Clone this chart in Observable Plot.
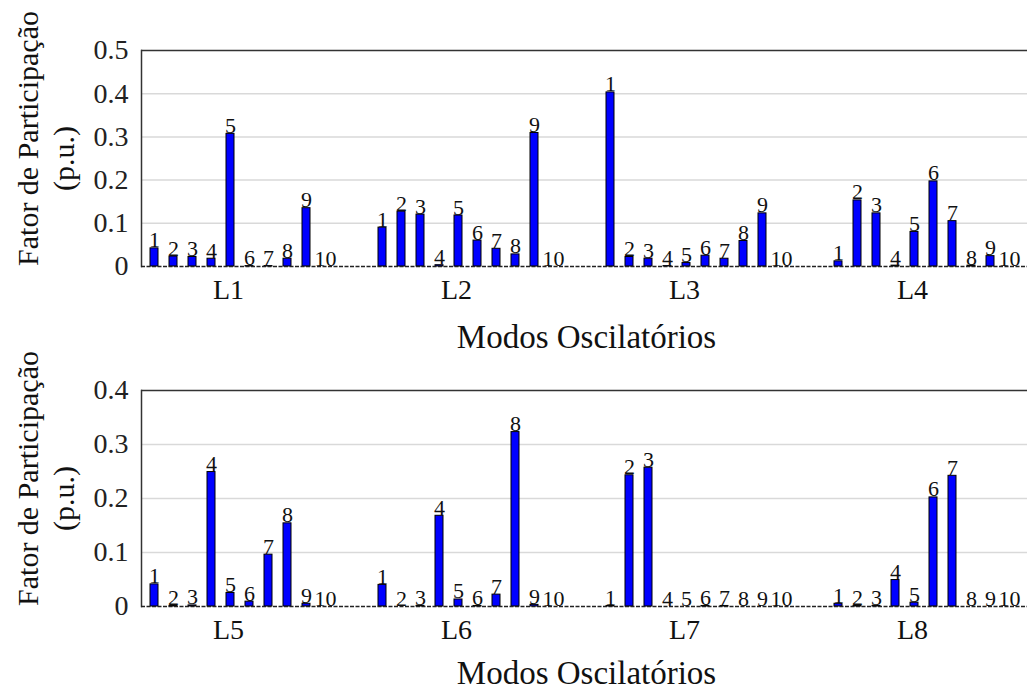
<!DOCTYPE html>
<html>
<head>
<meta charset="utf-8">
<script src="https://cdn.jsdelivr.net/npm/d3@7"></script>
<script src="https://cdn.jsdelivr.net/npm/@observablehq/plot@0.6"></script>
<style>
  body { margin: 0; background: #fff; }
  #chart svg { display: block; overflow: visible; }
  #chart svg, #chart svg text {
    font-family: "Liberation Serif", "DejaVu Serif", "Times New Roman", Times, serif !important;
  }
</style>
</head>
<body>
<div id="chart"></div>
<script>
// Oscillation modes shown in every group
const modes = [1, 2, 3, 4, 5, 6, 7, 8, 9, 10];

// Group labels for each panel
const groupsTop = ["L1", "L2", "L3", "L4"];
const groupsBottom = ["L5", "L6", "L7", "L8"];

// Participation factors (p.u.) per mode, one list per group
const L1 = [0.042, 0.023, 0.022, 0.018, 0.307, 0.001, 0.001, 0.018, 0.135, 0];
const L2 = [0.090, 0.127, 0.120, 0.003, 0.118, 0.060, 0.041, 0.028, 0.309, 0];
const L3 = [0.403, 0.022, 0.018, 0.001, 0.008, 0.025, 0.018, 0.059, 0.123, 0];
const L4 = [0.012, 0.153, 0.123, 0.002, 0.080, 0.197, 0.105, 0.002, 0.024, 0];
const L5 = [0.041, 0.001, 0.002, 0.249, 0.025, 0.009, 0.096, 0.154, 0.005, 0];
const L6 = [0.040, 0, 0.001, 0.168, 0.013, 0.001, 0.022, 0.323, 0.003, 0];
const L7 = [0.001, 0.243, 0.257, 0, 0, 0.001, 0.001, 0, 0, 0];
const L8 = [0.005, 0.001, 0.001, 0.049, 0.007, 0.202, 0.242, 0, 0, 0];

// Y-axis tick values per panel
const ticksTop = [0, 0.1, 0.2, 0.3, 0.4, 0.5];
const ticksBottom = [0, 0.1, 0.2, 0.3, 0.4];

const SLOTS = 12; // 10 modes + 2 empty slots between groups
const SERIF = "Liberation Serif, DejaVu Serif, serif";

function panel({groups, values, ticks, height, marginTop, marginBottom, titleOffset}) {
  const yMax = d3.max(ticks);
  const rows = groups.flatMap((g, gi) =>
    modes.map((m, mi) => ({group: g, mode: m, slot: gi * SLOTS + mi, value: values[gi][mi]}))
  );
  const groupLabels = groups.map((g, gi) => ({group: g, slot: gi * SLOTS + 4}));
  return Plot.plot({
    width: 1027,
    height,
    marginLeft: 141,
    marginRight: 0,
    marginTop,
    marginBottom,
    style: {background: "white", color: "#222", fontFamily: SERIF},
    x: {type: "band", domain: d3.range(SLOTS * 4), range: [141, 1061], paddingInner: 0.57, paddingOuter: 0.285, axis: null},
    y: {domain: [0, yMax], axis: null},
    marks: [
      Plot.gridY(ticks.filter(t => t > 0 && t < yMax), {stroke: "#d9d9d9", strokeOpacity: 1, strokeWidth: 1.5}),
      Plot.ruleY([yMax], {stroke: "#333", strokeWidth: 1.5}),
      Plot.frame({anchor: "left", stroke: "#333", strokeWidth: 1.5}),
      Plot.barY(rows, {x: "slot", y: "value", fill: "#0000ff", stroke: "#000", strokeWidth: 1}),
      Plot.ruleY([0], {stroke: "#222", strokeWidth: 1.5, strokeDasharray: "4,1.5"}),
      Plot.text(rows, {x: "slot", y: "value", text: d => String(d.mode), lineAnchor: "bottom", dy: -1, fontSize: 22, fontFamily: SERIF, fill: "#111"}),
      Plot.axisY(ticks, {tickSize: 0, tickPadding: 13, fontSize: 28, fontFamily: SERIF, tickFormat: d => String(d), label: null}),
      Plot.text(groupLabels, {x: "slot", text: "group", frameAnchor: "bottom", dy: 24, dx: -2, fontSize: 28, fontFamily: SERIF, lineAnchor: "middle", fill: "#111"}),
      Plot.text(["Modos Oscilatórios"], {frameAnchor: "bottom", textAnchor: "middle", dx: 2, dy: titleOffset, fontSize: 33, fontFamily: SERIF, lineAnchor: "middle", fill: "#111"}),
      Plot.text(["Fator de Participação"], {frameAnchor: "left", textAnchor: "middle", rotate: -90, dx: -113, dy: -20, fontSize: 30, fontFamily: SERIF, lineAnchor: "middle", fill: "#111"}),
      Plot.text(["(p.u.)"], {frameAnchor: "left", textAnchor: "middle", rotate: -90, dx: -77, dy: 0, fontSize: 30, fontFamily: SERIF, lineAnchor: "middle", fill: "#111"})
    ]
  });
}

const chart = document.getElementById("chart");
chart.append(panel({groups: groupsTop, values: [L1, L2, L3, L4], ticks: ticksTop, height: 352, marginTop: 50, marginBottom: 86, titleOffset: 71}));
chart.append(panel({groups: groupsBottom, values: [L5, L6, L7, L8], ticks: ticksBottom, height: 341, marginTop: 38, marginBottom: 87, titleOffset: 67}));
</script>
</body>
</html>
